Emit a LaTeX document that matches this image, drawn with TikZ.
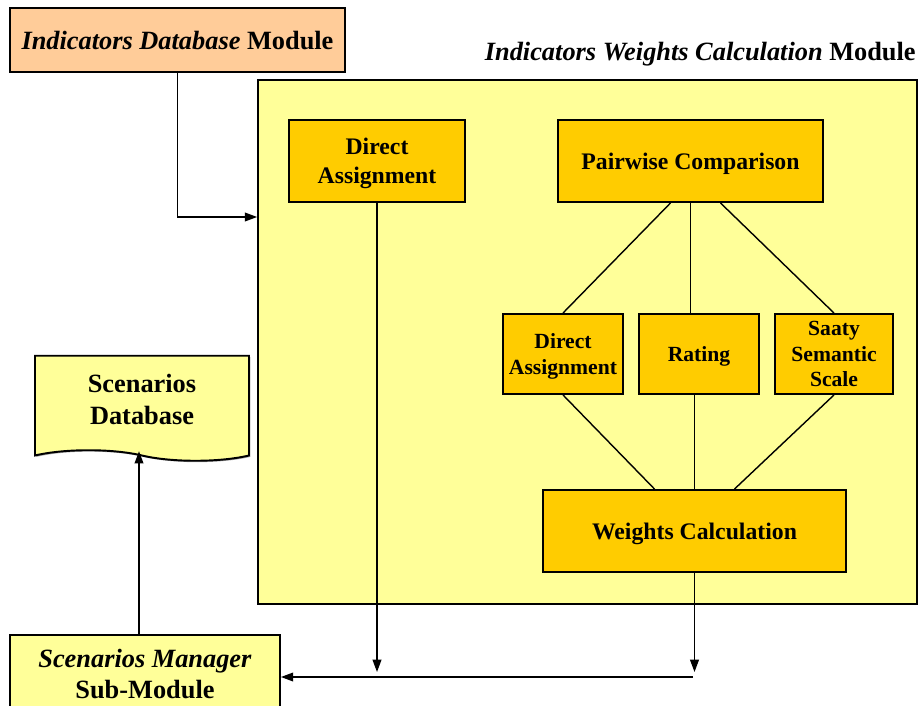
\documentclass[tikz,border=0pt]{standalone}
\usepackage{fontspec}
\setmainfont{Liberation Serif}
\usetikzlibrary{arrows.meta,shapes.symbols,shadows}
\definecolor{peach}{HTML}{FFCC99}
\definecolor{paleyellow}{HTML}{FFFF99}
\definecolor{gold}{HTML}{FFCC00}
\tikzset{
    module-box/.style = {draw=black, line width=1.1pt, rectangle, align=center, text depth=0pt,
        font=\bfseries\fontsize{15}{18}\selectfont,
        drop shadow={shadow xshift=0.8pt, shadow yshift=-0.8pt, opacity=0.35, fill=black}},
    method-box/.style = {module-box, fill=gold, font=\bfseries\fontsize{13.5}{16.4}\selectfont},
    small-box/.style = {method-box, font=\bfseries\fontsize{12.3}{14.5}\selectfont, minimum width=2.4cm, minimum height=1.6cm},
    link/.style = {draw=black, line width=0.8pt},
    flow/.style = {link, -{Triangle[length=7pt,width=5pt]}},
}
\begin{document}
\begin{tikzpicture}[x=0.02cm, y=-0.02cm]
\useasboundingbox (0,0) rectangle (920,706);
\clip (0,0) rectangle (920,706);

% modules
\node [module-box, fill=peach, minimum width=6.7cm, minimum height=1.28cm] (indb) at (177.5,40)
    {\textit{Indicators Database} Module};
\node [module-box, fill=paleyellow, minimum width=13.18cm, minimum height=10.48cm] (iwcm) at (587.5,342) {};
\node [anchor=east, font=\bfseries\fontsize{15}{18}\selectfont, inner sep=0pt] (iwcm-title) at (916,54)
    {\textit{Indicators Weights Calculation} Module};

% methods inside the weights module
\node [method-box, minimum width=3.52cm, minimum height=1.64cm] (da1) at (377,161) {Direct\\Assignment};
\node [method-box, minimum width=5.3cm, minimum height=1.64cm] (pc) at (690.5,161) {Pairwise Comparison};
\node [small-box] (da2) at (563,354) {Direct\\Assignment};
\node [small-box] (rat) at (699,354) {Rating};
\node [small-box, minimum width=2.36cm] (saaty) at (834,354) {Saaty\\Semantic\\Scale};
\node [method-box, minimum width=6.06cm, minimum height=1.64cm] (wc) at (694.5,531) {Weights Calculation};

% scenarios
\node [module-box, fill=paleyellow, tape, tape bend top=none, tape bend bottom=out and in, tape bend height=6pt,
    minimum width=4.28cm, minimum height=2.1cm, text depth=0.4em] (sdb) at (142,403) {Scenarios\\Database};
\node [module-box, fill=paleyellow, minimum width=5.4cm, minimum height=1.56cm] (smm) at (145,674)
    {\textit{Scenarios Manager}\\Sub-Module};

% connectors
\coordinate (iwcm-in) at (iwcm.west |- 0,217);
\coordinate (bus-right) at (693,677);
\coordinate (smm-top) at ([xshift=-0.12cm]smm.north);
\draw [flow] (indb.south) |- (iwcm-in);
\draw [link] ([xshift=-0.4cm]pc.south) -- (da2.north);
\draw [link] (pc.south) -- (pc.south |- rat.north);
\draw [link] ([xshift=0.6cm]pc.south) -- (saaty.north);
\draw [link] (da2.south) -- ([xshift=-0.8cm]wc.north);
\draw [link] (wc.north |- rat.south) -- (wc.north);
\draw [link] (saaty.south) -- ([xshift=0.8cm]wc.north);
\draw [flow] (da1.south) -- (da1.south |- 0,672);
\draw [flow] (wc.south) -- (wc.south |- 0,672);
\draw [flow] (bus-right) -- (smm.east |- bus-right);
\draw [flow] (smm-top) -- (smm-top |- sdb.south);
\end{tikzpicture}
\end{document}
